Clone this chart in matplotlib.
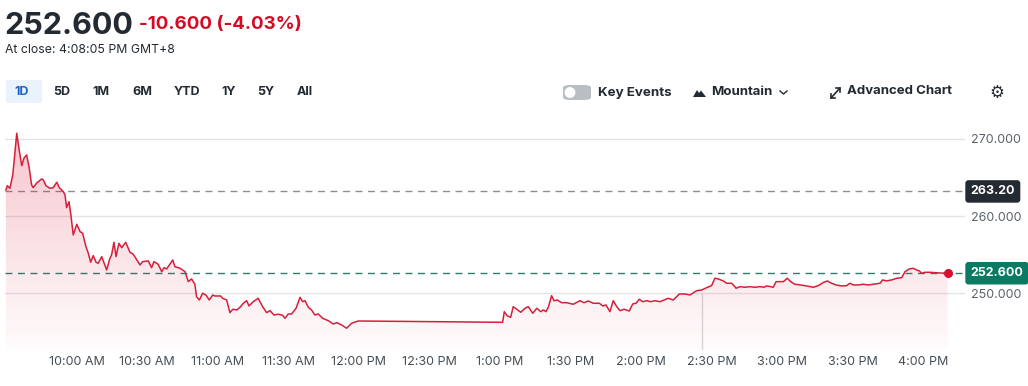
import numpy as np
import matplotlib
matplotlib.use("Agg")
import matplotlib.pyplot as plt
import matplotlib.transforms as mtransforms
from matplotlib.patches import FancyBboxPatch, Circle, Polygon

plt.rcParams['font.family'] = ['Inter', 'DejaVu Sans']

# minutes after 9:30 AM, price
minutes = [0, 0.6, 1.7, 2.9, 4.6, 5.5, 6.7, 7.7, 8.8, 9.9, 10.9, 11.6, 13.1, 15.2, 15.9,
           17.0, 18.7, 20.1, 21.6, 22.7, 24.4, 25.1, 25.8, 26.8, 27.6, 28.6, 30.1, 31.5,
           32.6, 34.0, 35.0, 36.0, 37.1, 38.3, 39.2, 40.7, 42.8, 44.2, 44.9, 45.9, 46.8,
           48.0, 49.2, 50.9, 52.7, 54.1, 57.0, 58.1, 60.5, 61.9, 62.9, 64.7, 66.2, 67.2,
           68.3, 70.9, 71.8, 74.0, 76.1, 77.5, 78.9, 80.3, 81.0, 82.2, 83.6, 85.0, 86.4,
           87.9, 88.8, 91.3, 92.1, 93.8, 95.2, 96.4, 98.1, 99.5, 100.9, 102.3, 103.3,
           105.1, 107.2, 109.1, 110.8, 112.2, 113.9, 115.7, 117.6, 118.6, 120.0, 121.4,
           123.3, 125.0, 126.1, 127.1, 128.5, 129.9, 131.3, 132.7, 134.6, 137.0, 139.1,
           140.6, 142.7, 144.8, 146.9, 149.7, 180.0, 211.1, 211.8, 213.1, 214.5, 215.6,
           217.1, 218.8, 220.6, 222.0, 223.9, 225.6, 227.3, 228.4, 229.5, 230.5, 231.9,
           232.9, 234.3, 236.2, 238.3, 241.1, 244.0, 245.7, 247.5, 249.6, 252.2, 253.6,
           255.0, 256.7, 258.1, 259.6, 261.0, 262.7, 264.9, 266.4, 267.8, 269.2, 270.6,
           272.3, 274.0, 275.8, 278.0, 279.7, 281.5, 283.6, 286.2, 288.6, 290.7, 293.6,
           295.7, 297.8, 299.9, 301.3, 302.7, 304.9, 306.3, 308.4, 309.4, 310.3, 312.0,
           314.1, 316.2, 318.3, 320.5, 322.2, 323.3, 325.0, 326.1, 327.3, 330.4, 332.1,
           333.5, 335.3, 337.5, 340.3, 343.1, 345.2, 347.6, 349.1, 350.9, 352.8, 355.2,
           357.3, 358.7, 360.1, 362.3, 364.4, 366.5, 368.6, 371.5, 372.6, 374.3, 376.4,
           378.6, 380.7, 382.1, 383.9, 385.6, 387.1, 388.2, 389.2, 390.6, 392.7, 394.8,
           397.0, 400.2]
prices = [263.39, 263.95, 263.61, 265.33, 270.74, 268.83, 266.54, 267.54, 267.93, 266.24,
          264.04, 263.69, 264.30, 264.82, 264.69, 263.95, 263.61, 263.69, 264.39, 263.69,
          263.17, 262.74, 261.10, 261.87, 260.15, 257.56, 258.95, 257.99, 257.78, 256.04,
          255.19, 254.02, 254.88, 254.02, 253.89, 254.75, 253.02, 254.54, 254.97, 256.61,
          254.75, 256.48, 255.91, 256.61, 255.32, 255.06, 253.67, 254.10, 254.19, 253.32,
          254.10, 253.76, 252.80, 253.32, 253.15, 254.32, 253.45, 253.24, 252.80, 251.51,
          251.86, 251.17, 249.56, 249.13, 250.00, 249.78, 249.13, 249.78, 249.65, 249.65,
          249.35, 249.13, 247.49, 247.93, 247.84, 248.19, 248.71, 249.04, 248.36, 248.91,
          249.35, 248.27, 247.49, 247.75, 247.19, 247.28, 247.15, 246.76, 247.32, 247.32,
          248.06, 249.48, 248.91, 249.04, 248.19, 247.84, 247.19, 247.32, 246.76, 246.45,
          246.02, 246.19, 245.89, 245.47, 246.11, 246.41, 246.32, 246.24, 247.62, 247.06,
          246.89, 248.27, 247.93, 247.54, 248.06, 248.27, 247.41, 248.06, 247.62, 247.84,
          247.62, 248.19, 249.69, 249.04, 249.13, 248.78, 248.78, 248.58, 249.04, 248.78,
          249.00, 248.71, 248.71, 248.36, 248.49, 247.62, 249.04, 248.27, 247.75, 247.93,
          247.71, 248.62, 248.71, 249.23, 248.91, 249.04, 248.91, 249.04, 248.91, 249.13,
          249.35, 249.13, 249.91, 249.91, 249.78, 250.34, 250.43, 250.73, 250.99, 251.95,
          251.86, 251.60, 251.30, 251.30, 250.99, 250.65, 250.86, 250.78, 250.86, 250.78,
          250.86, 250.78, 250.95, 250.86, 250.78, 251.51, 251.51, 251.95, 251.51, 251.17,
          251.08, 250.95, 250.78, 250.99, 251.43, 251.60, 251.30, 251.08, 250.95, 250.99,
          251.30, 251.08, 251.08, 251.17, 251.08, 251.17, 251.30, 251.73, 251.60, 251.73,
          251.95, 252.02, 252.80, 253.15, 253.24, 253.02, 252.89, 252.59, 252.72, 252.72,
          252.67, 252.63, 252.60]

prev_close = 263.20
last_price = 252.600
tick_minutes = [30, 60, 90, 120, 150, 180, 210, 240, 270, 300, 330, 360, 390]
tick_labels = ["10:00 AM", "10:30 AM", "11:00 AM", "11:30 AM", "12:00 PM", "12:30 PM",
               "1:00 PM", "1:30 PM", "2:00 PM", "2:30 PM", "3:00 PM", "3:30 PM", "4:00 PM"]
grid_levels = [250, 260, 270]
ranges = ["1D", "5D", "1M", "6M", "YTD", "1Y", "5Y", "All"]
range_x = [22, 62, 101, 142, 187, 229, 266, 305]

W, H = 1028, 386
RED = "#d61f3a"
DARK = "#232a31"
GREY = "#5b636a"
GREEN = "#0b7a63"

fig = plt.figure(figsize=(W / 100, H / 100), dpi=100)
fig.patch.set_facecolor("white")


def fx(x):
    return x / W


def fy(y):
    return 1 - y / H


# header
fig.text(fx(4), fy(34), "252.600", fontsize=22, weight="bold", color=DARK, va="baseline")
fig.text(fx(139), fy(29), "-10.600 (-4.03%)", fontsize=13.5, weight="bold", color="#d60a22",
         va="baseline")
fig.text(fx(5), fy(53), "At close: 4:08:05 PM GMT+8", fontsize=8.8, color=DARK, va="baseline")

# range buttons
fig.add_artist(FancyBboxPatch((fx(6), fy(103)), fx(36), 23 / H,
                              boxstyle="round,pad=0,rounding_size=0.004",
                              transform=fig.transFigure, fc="#eaf2fc", ec="none"))
for lab, x in zip(ranges, range_x):
    fig.text(fx(x), fy(92), lab, fontsize=9, weight="bold",
             color="#1d63c9" if lab == "1D" else DARK, ha="center", va="center")

# right toolbar
fig.add_artist(FancyBboxPatch((fx(563), fy(100)), fx(28), 15 / H,
                              boxstyle="round,pad=0,rounding_size=0.007",
                              transform=fig.transFigure, fc="#b9bec4", ec="none"))
fig.add_artist(Circle((570, H - 92.5), 6, transform=None, fc="white", ec="#b9bec4", lw=0.8))
fig.text(fx(598), fy(93), "Key Events", fontsize=9.6, weight="bold", color=DARK, va="center")
fig.add_artist(Polygon([(fx(693), fy(97)), (fx(697), fy(90)), (fx(699), fy(93)),
                        (fx(701), fy(90.5)), (fx(706), fy(97))],
                       closed=True, transform=fig.transFigure, fc=DARK, ec="none"))
fig.text(fx(711), fy(92), "Mountain", fontsize=9.5, weight="bold", color=DARK, va="center")
fig.add_artist(plt.Line2D([fx(780), fx(783.5), fx(787)], [fy(91), fy(94), fy(91)],
                          transform=fig.transFigure, color=DARK, lw=1))
fig.add_artist(plt.Line2D([fx(831), fx(840)], [fy(98), fy(88)],
                          transform=fig.transFigure, color=DARK, lw=1.2))
fig.add_artist(plt.Line2D([fx(831), fx(831), fx(835)], [fy(94), fy(98), fy(98)],
                          transform=fig.transFigure, color=DARK, lw=1.2))
fig.add_artist(plt.Line2D([fx(836), fx(840), fx(840)], [fy(88), fy(88), fy(92)],
                          transform=fig.transFigure, color=DARK, lw=1.2))
fig.text(fx(847), fy(91), "Advanced Chart", fontsize=9.5, weight="bold", color=DARK, va="center")
fig.text(fx(997), fy(93), "\u2699", fontsize=12, color=DARK, ha="center", va="center",
         family="DejaVu Sans")

# chart
ax = fig.add_axes([fx(5), 36 / H, 960 / W, 225 / H])
xmin, xmax = -0.4, 407.6
ymin, ymax = 242.65, 271.81

for g in grid_levels:
    ax.axhline(g, color="#e2e4e7", lw=1, zorder=0)

ax.axhline(prev_close, color="#8a8f94", lw=1, ls=(0, (5, 4)), zorder=1)
ax.axhline(last_price, color="#2f7d70", lw=1, ls=(0, (5, 4)), zorder=1)

# hover line
ax.plot([296, 296], [ymin, 250], color="#d6d8db", lw=1, zorder=1)

# gradient fill under the line
poly = ax.fill_between(minutes, prices, ymin, color="none")
grad = np.zeros((256, 1, 4))
grad[:, 0, 0] = 0.86
grad[:, 0, 1] = 0.10
grad[:, 0, 2] = 0.22
grad[:, 0, 3] = np.linspace(0.26, 0.015, 256)
im = ax.imshow(grad, extent=[xmin, xmax, ymin, ymax], aspect="auto", origin="upper", zorder=2)
im.set_clip_path(poly.get_paths()[0], transform=ax.transData)

ax.plot(minutes, prices, color=RED, lw=1.1, zorder=3)
ax.plot(minutes[-1], prices[-1], "o", color="#d6102e", ms=5.5, zorder=4)

ax.set_xlim(xmin, xmax)
ax.set_ylim(ymin, ymax)
for s in ax.spines.values():
    s.set_visible(False)

ax.set_xticks(tick_minutes)
ax.set_xticklabels(tick_labels)
ax.yaxis.tick_right()
ax.set_yticks(grid_levels)
ax.set_yticklabels([f"{g:.3f}" for g in grid_levels])
ax.tick_params(axis="x", length=0, pad=4, labelsize=9, labelcolor="#464e56")
ax.tick_params(axis="y", length=0, pad=4, labelsize=9, labelcolor=GREY)

trans = mtransforms.blended_transform_factory(ax.transAxes, ax.transData)
ax.text(1.0058, prev_close, f"{prev_close:.2f}", transform=trans, fontsize=9, weight="bold",
        color="white", va="center", ha="left",
        bbox=dict(boxstyle="round,pad=0.42,rounding_size=0.25", fc=DARK, ec="none"))
ax.text(1.0058, last_price, f"{last_price:.3f}", transform=trans, fontsize=9, weight="bold",
        color="white", va="center", ha="left",
        bbox=dict(boxstyle="round,pad=0.42,rounding_size=0.25", fc=GREEN, ec="none"))

fig.savefig("out.png", dpi=100, facecolor="white")
